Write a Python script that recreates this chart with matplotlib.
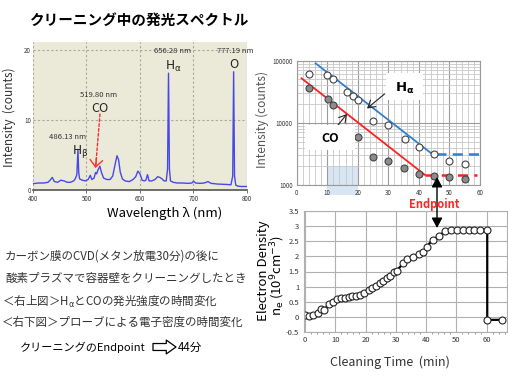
import matplotlib
matplotlib.use('Agg')
import matplotlib.pyplot as plt
from matplotlib.patches import Rectangle
from matplotlib.ticker import FixedLocator, MultipleLocator, NullFormatter

plt.rcParams['font.family'] = ['Noto Sans CJK JP', 'DejaVu Sans']
plt.rcParams['mathtext.fontset'] = 'dejavusans'

W, H = 508, 377

# emission spectrum (left)
wavelength = [400, 410, 420, 428, 432, 436, 440, 446, 452, 458, 464, 470, 476, 479, 482,
              484, 485.5, 487, 492, 498, 503, 507, 510, 514, 517, 519, 521, 525, 528, 532,
              538, 544, 549, 553, 557, 560, 563, 567, 572, 580, 587, 592, 596, 600, 604,
              608, 611, 614, 617, 622, 628, 633, 637, 641, 645, 649, 651.5, 653.3, 655, 657,
              662, 670, 680, 690, 697, 700, 704, 712, 720, 727, 733, 745, 760, 770, 773.3,
              775, 776.7, 779, 783, 790, 800]
intensity = [0.9, 1.0, 1.0, 1.1, 1.4, 1.8, 1.2, 1.1, 1.4, 1.3, 1.1, 1.1, 1.3, 1.6, 2.2,
             5.8, 2.5, 1.6, 1.4, 1.3, 1.5, 2.1, 1.5, 1.7, 2.5, 2.3, 2.8, 3.4, 2.5, 1.7,
             1.5, 1.5, 2.0, 3.5, 4.9, 4.3, 2.6, 1.6, 1.3, 1.2, 1.5, 1.9, 2.7, 2.3, 1.4,
             1.3, 1.4, 2.2, 1.3, 1.3, 1.5, 1.9, 1.8, 1.6, 1.3, 1.3, 3.0, 16.7, 3.0, 1.3,
             1.1, 1.0, 1.0, 0.95, 1.0, 1.25, 1.0, 0.95, 1.0, 1.2, 0.95, 0.85, 0.8, 0.75, 2.0,
             16.9, 2.0, 0.7, 0.55, 0.5, 0.5]
spec_xticks = [400, 500, 600, 700, 800]
spec_yticks = [0, 10, 20]

# line intensity vs cleaning time (top right)
time_ha = [4, 10, 12, 16.4, 18.3, 20.2, 25, 30, 35.3, 40, 45, 50, 55]
ha_counts = [62000, 58000, 51500, 31000, 27000, 23500, 10800, 9200, 5600, 4100, 3150, 2430, 2140]
time_co = [4, 10.2, 12, 20.2, 25, 30, 35, 40, 45, 50, 55]
co_counts = [36000, 24500, 19600, 5900, 2790, 2460, 1900, 1500, 1414, 1360, 1260]
ha_fit_t = [6.2, 44.5]
ha_fit = [90600, 3110]
ha_flat_t = [45.5, 60.5]
ha_flat = [3110, 3110]
co_fit_t = [1.6, 42]
co_fit = [52000, 1450]
co_flat_t = [42, 59]
co_flat = [1450, 1450]

# electron density vs cleaning time (bottom right)
time_ne = [0, 1.4, 2.8, 4.2, 5.4, 6.3, 7.9, 9.4, 10.7, 12, 13.2, 14.4, 15.6, 16.9, 18.2,
           19.6, 21.1, 22.2, 23.5, 24.7, 25.9, 27, 28.1, 29.4, 30.3, 32.5, 33.8, 35.8, 37.7,
           39.1, 40.2, 42.2, 44.4, 46.3, 48.1, 50.3, 52.3, 54.1, 55.8, 57.8, 60.2, 60.2, 65.2]
ne = [0.07, 0.02, 0.07, 0.14, 0.28, 0.22, 0.44, 0.51, 0.59, 0.62, 0.64, 0.66, 0.69, 0.71, 0.74,
      0.80, 0.88, 0.97, 1.03, 1.11, 1.19, 1.29, 1.36, 1.47, 1.53, 1.77, 1.91, 1.99, 2.06,
      2.13, 2.32, 2.54, 2.68, 2.83, 2.88, 2.85, 2.85, 2.85, 2.85, 2.88, 2.88, -0.09, -0.09]


def fp(x, y):
    # pixel position (from top-left) -> figure fraction
    return (x / W, 1 - y / H)


def ax_rect(l, t, r, b):
    return [l / W, 1 - b / H, (r - l) / W, (b - t) / H]


fig = plt.figure(figsize=(W / 100, H / 100), dpi=100)

# ---------------- spectrum ----------------
fig.text(*fp(140, 20), 'クリーニング中の発光スペクトル', fontsize=10.5, fontweight='bold',
         ha='center', va='center')

ax1 = fig.add_axes(ax_rect(33, 41.7, 247, 190))
ax1.set_facecolor('#ebe9d8')
ax1.plot(wavelength, intensity, color='#4848e8', lw=1.0)
ax1.set_xlim(400, 800)
ax1.set_ylim(0, 21.2)
ax1.set_xticks(spec_xticks)
ax1.set_yticks(spec_yticks)
ax1.grid(True, color='#a8a89c', ls=(0, (2, 2)), lw=0.8)
for s in ['top', 'right', 'left']:
    ax1.spines[s].set_visible(False)
ax1.spines['bottom'].set_color('#555555')
ax1.spines['bottom'].set_linewidth(1.2)
ax1.tick_params(labelsize=4.5, length=2, width=0.5, colors='#333333', pad=1.5)
ax1.tick_params(axis='y', length=0)

fig.text(*fp(165, 213), 'Wavelength λ (nm)', fontsize=9.5, ha='center', va='center')
fig.text(*fp(9, 117), 'Intensity  (counts)', fontsize=8.5, rotation=90, ha='center',
         va='center', color='#333333')

peak_labels = [
    ((173, 51), '656.28 nm', (173, 66), r'H$_\mathrm{\alpha}$'),
    ((235, 51), '777.19 nm', (234, 64), 'O'),
    ((99, 95), '519.80 nm', (100, 108), 'CO'),
    ((68, 137), '486.13 nm', (80, 151), r'H$_\mathrm{\beta}$'),
]
for (p1, t1, p2, t2) in peak_labels:
    fig.text(*fp(*p1), t1, fontsize=5.5, ha='center', va='center', color='#333333')
    fig.text(*fp(*p2), t2, fontsize=9, ha='center', va='center', color='#222222')

# red dashed arrow to the CO band
ax1.annotate('', xy=fp(95.7, 166), xytext=fp(100, 114), xycoords='figure fraction',
             arrowprops=dict(arrowstyle='-', color='#ff3030', lw=1.0, ls=(0, (2, 1.5)),
                             shrinkA=0, shrinkB=0))
ax1.annotate('', xy=fp(95.5, 168), xytext=fp(96.5, 158), xycoords='figure fraction',
             arrowprops=dict(arrowstyle='->,head_length=0.5,head_width=0.45', color='#ff3030',
                             lw=1.0, mutation_scale=10, shrinkA=0, shrinkB=0))

# ---------------- intensity vs time ----------------
ax2 = fig.add_axes(ax_rect(296.7, 60.7, 480, 185))
ax2.set_yscale('log')
ax2.set_xlim(0, 60)
ax2.set_ylim(1000, 100000)
ax2.set_xticks(range(0, 61, 10))
ax2.xaxis.set_minor_locator(MultipleLocator(2))
ax2.set_yticks([1000, 10000, 100000])
ax2.set_yticklabels(['1000', '10000', '100000'])
ax2.yaxis.set_minor_formatter(NullFormatter())
ax2.grid(True, which='major', color='#9a9a9a', lw=0.8)
ax2.grid(True, which='minor', color='#c8c8c8', lw=0.6)
ax2.set_axisbelow(True)
for s in ax2.spines.values():
    s.set_color('#9a9a9a')
    s.set_linewidth(0.8)
ax2.tick_params(which='both', length=0, labelsize=4.5, colors='#333333', pad=3)

ax2.add_patch(Rectangle((10, -0.08), 10, 0.233, transform=ax2.get_xaxis_transform(),
                        color='#d8e5f3', zorder=0.5, clip_on=False, lw=0))

ax2.plot(ha_fit_t, ha_fit, color='#2f80d0', lw=1.3, zorder=3)
ax2.plot(ha_flat_t, ha_flat, color='#2f80d0', lw=1.8, ls=(0, (4, 2.5)), zorder=3)
ax2.plot(co_fit_t, co_fit, color='#ff2020', lw=1.3, zorder=3)
ax2.plot(co_flat_t, co_flat, color='#ff2020', lw=1.8, ls=(0, (4, 2.5)), zorder=3)
ax2.plot(time_ha, ha_counts, 'o', ms=5, mfc='white', mec='#444444', mew=0.8, zorder=4)
ax2.plot(time_co, co_counts, 'o', ms=5, mfc='#8c8c8c', mec='#444444', mew=0.8, zorder=4)

fig.text(*fp(262, 119), 'Intensity (counts)', fontsize=8.5, rotation=90, ha='center',
         va='center', color='#555555')

fig.patches.append(Rectangle(fp(386, 100), 37 / W, 27 / H, transform=fig.transFigure,
                             facecolor='white', edgecolor='none', zorder=5))
fig.text(*fp(405, 88), r'$\mathbf{H}_{\mathbf{\alpha}}$', fontsize=9.5, ha='center', va='center',
         zorder=6)
fig.patches.append(Rectangle(fp(305, 150), 50 / W, 25 / H, transform=fig.transFigure,
                             facecolor='white', edgecolor='none', zorder=5))
fig.text(*fp(330, 138), 'CO', fontsize=9, fontweight='bold', ha='center', va='center', zorder=6)

ax2.annotate('', xy=fp(367, 108.5), xytext=fp(384.5, 94), xycoords='figure fraction',
             arrowprops=dict(arrowstyle='->,head_length=0.5,head_width=0.3', color='#222222',
                             lw=0.8, mutation_scale=10, shrinkA=0, shrinkB=0))
ax2.annotate('', xy=fp(347, 114), xytext=fp(338, 125), xycoords='figure fraction',
             arrowprops=dict(arrowstyle='->,head_length=0.5,head_width=0.3', color='#222222',
                             lw=0.8, mutation_scale=10, shrinkA=0, shrinkB=0))

# endpoint marker
fig.text(*fp(434, 205), 'Endpoint', fontsize=8, fontweight='bold', color='#ff2828',
         ha='center', va='center')
fig.add_artist(matplotlib.patches.FancyArrowPatch(
    fp(437, 228), fp(437, 177), transform=fig.transFigure,
    arrowstyle='<|-|>,head_length=0.6,head_width=0.32', mutation_scale=10,
    color='black', lw=1.0, shrinkA=0, shrinkB=0))

# ---------------- electron density ----------------
ax3 = fig.add_axes(ax_rect(303.5, 210.7, 506.6, 332.3))
ax3.plot(time_ne, ne, '-o', color='black', lw=1.6, ms=5, mfc='white', mec='#222222', mew=0.8)
ax3.set_xlim(-0.5, 66.6)
ax3.set_ylim(-0.5, 3.5)
ax3.set_xticks(range(0, 61, 10))
ax3.xaxis.set_minor_locator(MultipleLocator(2))
ax3.set_yticks([-0.5, 0, 0.5, 1, 1.5, 2, 2.5, 3, 3.5])
ax3.set_yticklabels(['-0.5', '0', '0.5', '1', '1.5', '2', '2.5', '3', '3.5'])
ax3.grid(True, color='#b0b0b0', lw=0.8)
ax3.set_axisbelow(True)
for s in ax3.spines.values():
    s.set_color('#b0b0b0')
    s.set_linewidth(0.8)
ax3.tick_params(labelsize=5.5, length=0, colors='#333333', pad=3)
ax3.tick_params(axis='x', which='minor', length=1.5, color='#888888')

fig.text(*fp(263, 271), 'Electron Density', fontsize=9.5, rotation=90, ha='center', va='center')
fig.text(*fp(278, 275), r'n$_\mathrm{e}$ (10$^\mathrm{9}$cm$^\mathrm{-3}$)', fontsize=9.5,
         rotation=90, ha='center', va='center')
fig.text(*fp(390, 362), 'Cleaning Time  (min)', fontsize=9, ha='center', va='center',
         color='#333333')

# ---------------- description ----------------
notes = [
    ((5, 256), 'カーボン膜のCVD(メタン放電30分)の後に'),
    ((5, 278), '酸素プラズマで容器壁をクリーニングしたとき'),
    ((2, 301.5), r'＜右上図＞H$_\mathrm{\alpha}$とCOの発光強度の時間変化'),
    ((2, 322), '＜右下図＞プローブによる電子密度の時間変化'),
]
for pos, txt in notes:
    fig.text(*fp(*pos), txt, fontsize=8.3, ha='left', va='center', color='#333333')

fig.text(*fp(20, 347), 'クリーニングのEndpoint', fontsize=8, ha='left', va='center')
fig.add_artist(matplotlib.patches.FancyArrowPatch(
    fp(153, 347), fp(176, 347), transform=fig.transFigure,
    arrowstyle='simple,head_length=0.7,head_width=1.0,tail_width=0.5', mutation_scale=10,
    facecolor='white', edgecolor='black', lw=0.9, shrinkA=0, shrinkB=0))
fig.text(*fp(178, 347), '44分', fontsize=8.3, ha='left', va='center')

fig.savefig('out.png', dpi=100)
